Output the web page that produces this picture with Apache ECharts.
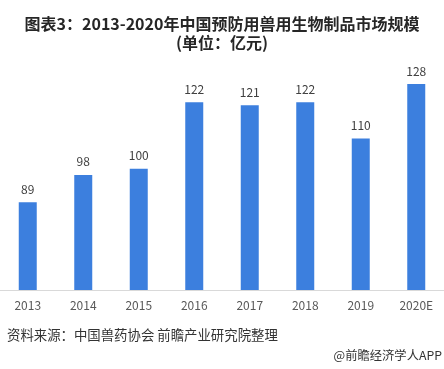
<!DOCTYPE html>
<html><head><meta charset="utf-8">
<script src="https://cdn.jsdelivr.net/npm/echarts@6/dist/echarts.min.js"></script>
<style>html,body{margin:0;padding:0;background:#fff}#c{width:444px;height:369px}</style>
</head><body><div id="c"></div>
<script>
const categories = ['2013','2014','2015','2016','2017','2018','2019','2020E'];
const values = [89, 98, 100, 122, 121, 122, 110, 128];
const titleText = '图表3：2013-2020年中国预防用兽用生物制品市场规模\n(单位：亿元)';
const sourceText = '资料来源：中国兽药协会 前瞻产业研究院整理';
const creditText = '@前瞻经济学人APP';
const F = '"Noto Sans CJK SC", "Noto Sans", sans-serif';
const chart = echarts.init(document.getElementById('c'));
chart.setOption({
  animation: false,
  title: {
    text: titleText, left: 'center', top: 9,
    textStyle: {fontFamily: F, fontSize: 16, fontWeight: 'bold', color: '#262626', lineHeight: 19}
  },
  grid: {left: -2, right: -4, top: 78, bottom: 79, containLabel: false},
  xAxis: {
    type: 'category', data: categories,
    axisLine: {lineStyle: {color: '#d9d9d9'}},
    axisTick: {show: false},
    axisLabel: {color: '#595959', fontSize: 12, fontFamily: F, margin: 9}
  },
  yAxis: {type: 'value', min: 60, max: 130, show: false, splitLine: {show: false}},
  series: [{
    type: 'bar', data: values, barWidth: 18,
    itemStyle: {color: '#3C7FDE'},
    label: {show: true, position: 'top', distance: 7, color: '#404040', fontSize: 12, fontFamily: F}
  }],
  graphic: [
    {type: 'text', left: 7, top: 328, style: {text: sourceText, fill: '#333', font: '13.4px ' + F}},
    {type: 'text', right: 2, top: 349, style: {text: creditText, fill: '#333', font: '12.3px ' + F}}
  ]
});
</script></body></html>
